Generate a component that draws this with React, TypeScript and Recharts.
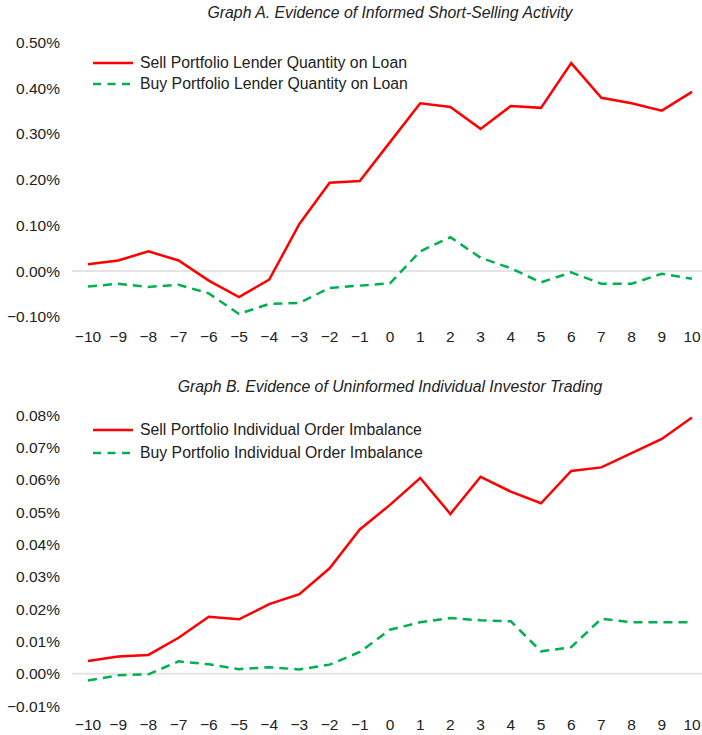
import React from "react";
import { LineChart, Line, XAxis, YAxis, ReferenceLine, Legend } from "recharts";

const periods = [-10, -9, -8, -7, -6, -5, -4, -3, -2, -1, 0, 1, 2, 3, 4, 5, 6, 7, 8, 9, 10];

const sellLoan = [0.015, 0.023, 0.043, 0.023, -0.021, -0.057, -0.019, 0.103, 0.193, 0.197, 0.282, 0.367, 0.359, 0.311, 0.361, 0.357, 0.455, 0.379, 0.367, 0.351, 0.392];
const buyLoan = [-0.034, -0.028, -0.035, -0.03, -0.049, -0.094, -0.072, -0.07, -0.037, -0.032, -0.027, 0.043, 0.074, 0.029, 0.006, -0.025, -0.003, -0.028, -0.028, -0.006, -0.017];

const sellImb = [0.0039, 0.0053, 0.0058, 0.0111, 0.0176, 0.0168, 0.0215, 0.0246, 0.0326, 0.0446, 0.0522, 0.0605, 0.0494, 0.0609, 0.0563, 0.0527, 0.0627, 0.0638, 0.0682, 0.0726, 0.0792];
const buyImb = [-0.0021, -0.0005, -0.0002, 0.0038, 0.0029, 0.0014, 0.002, 0.0013, 0.0028, 0.0067, 0.0136, 0.0159, 0.0172, 0.0165, 0.0162, 0.0069, 0.0082, 0.017, 0.0159, 0.0159, 0.0159];

const ticksA = [-0.1, 0, 0.1, 0.2, 0.3, 0.4, 0.5];
const ticksB = [-0.01, 0, 0.01, 0.02, 0.03, 0.04, 0.05, 0.06, 0.07, 0.08];

const titleA = "Graph A. Evidence of Informed Short-Selling Activity";
const titleB = "Graph B. Evidence of Uninformed Individual Investor Trading";
const namesA = ["Sell Portfolio Lender Quantity on Loan", "Buy Portfolio Lender Quantity on Loan"];
const namesB = ["Sell Portfolio Individual Order Imbalance", "Buy Portfolio Individual Order Imbalance"];

const dataA = periods.map((t, i) => ({ t, sell: sellLoan[i], buy: buyLoan[i] }));
const dataB = periods.map((t, i) => ({ t, sell: sellImb[i], buy: buyImb[i] }));

const FONT = "'Liberation Sans', Arial, Helvetica, sans-serif";
const RED = "#ff0000";
const GREEN = "#00b050";
const TEXT = "#222222";
const DASH = "9 6";

const fmtX = (v: number) => (v < 0 ? "\u2212" + Math.abs(v) : String(v));
const fmtY = (d: number) => (v: number) => {
  const r = Math.round(v * 10000) / 10000;
  if (r === 0) return (0).toFixed(d) + "%";
  return (r < 0 ? "\u2212" : "") + Math.abs(r).toFixed(d) + "%";
};

const ZeroShape = (p: any) => (
  <line x1={p.x1 - 16} x2={p.x2 + 10} y1={p.y1} y2={p.y2} stroke="#e4e4e4" strokeWidth={2} />
);

const makeLegend = (names: string[], rowH: number) => () => (
  <div style={{ fontFamily: FONT, fontSize: 15.8, color: TEXT }}>
    {names.map((n, i) => (
      <div key={n} style={{ display: "flex", alignItems: "center", height: rowH, whiteSpace: "nowrap" }}>
        <svg width={40} height={6} style={{ display: "block" }}>
          <line x1={0} y1={3} x2={40} y2={3} stroke={i === 0 ? RED : GREEN} strokeWidth={2.5} strokeDasharray={i === 0 ? undefined : "8 6.5"} />
        </svg>
        <span style={{ marginLeft: 7 }}>{n}</span>
      </div>
    ))}
  </div>
);

const titleStyle = (top: number): React.CSSProperties => ({
  position: "absolute",
  top,
  left: 88,
  width: 604,
  textAlign: "center",
  fontFamily: FONT,
  fontStyle: "italic",
  fontSize: 15.8,
  color: TEXT,
  lineHeight: "20px",
  whiteSpace: "nowrap",
});

const tickStyle = { fill: TEXT, fontSize: 15.5, fontFamily: FONT };

export default function App() {
  return (
    <div style={{ position: "absolute", left: 0, top: 0, width: 702, height: 735, background: "#fff" }}>
      <div style={titleStyle(3)}>{titleA}</div>
      <div style={{ position: "absolute", left: 0, top: 0 }}>
        <LineChart width={702} height={360} data={dataA} margin={{ top: 42.5, right: 10, left: 0, bottom: 13.3 }}>
          <XAxis dataKey="t" type="number" domain={[-10, 10]} ticks={periods} tickFormatter={fmtX} axisLine={false} tickLine={false} tickSize={0} tickMargin={14} height={30} tick={tickStyle} interval={0} />
          <YAxis type="number" domain={[-0.1, 0.5]} ticks={ticksA} tickFormatter={fmtY(2)} axisLine={false} tickLine={false} tickSize={0} tickMargin={28} width={88} tick={tickStyle} interval={0} />
          <ReferenceLine y={0} shape={ZeroShape} />
          <Legend layout="horizontal" verticalAlign="middle" align="center" content={makeLegend(namesA, 21)} wrapperStyle={{ top: 52, left: 93, width: 400 }} />
          <Line type="linear" dataKey="sell" name={namesA[0]} stroke={RED} strokeWidth={2.5} dot={false} isAnimationActive={false} />
          <Line type="linear" dataKey="buy" name={namesA[1]} stroke={GREEN} strokeWidth={2.5} strokeDasharray={DASH} dot={false} isAnimationActive={false} />
        </LineChart>
      </div>
      <div style={titleStyle(376.5)}>{titleB}</div>
      <div style={{ position: "absolute", left: 0, top: 370 }}>
        <LineChart width={702} height={365} data={dataB} margin={{ top: 45, right: 10, left: 0, bottom: 4 }}>
          <XAxis dataKey="t" type="number" domain={[-10, 10]} ticks={periods} tickFormatter={fmtX} axisLine={false} tickLine={false} tickSize={0} tickMargin={13} height={25} tick={tickStyle} interval={0} />
          <YAxis type="number" domain={[-0.01, 0.08]} ticks={ticksB} tickFormatter={fmtY(2)} axisLine={false} tickLine={false} tickSize={0} tickMargin={28} width={88} tick={tickStyle} interval={0} />
          <ReferenceLine y={0} shape={ZeroShape} />
          <Legend layout="horizontal" verticalAlign="middle" align="center" content={makeLegend(namesB, 23)} wrapperStyle={{ top: 48.5, left: 93, width: 400 }} />
          <Line type="linear" dataKey="sell" name={namesB[0]} stroke={RED} strokeWidth={2.5} dot={false} isAnimationActive={false} />
          <Line type="linear" dataKey="buy" name={namesB[1]} stroke={GREEN} strokeWidth={2.5} strokeDasharray={DASH} dot={false} isAnimationActive={false} />
        </LineChart>
      </div>
    </div>
  );
}
